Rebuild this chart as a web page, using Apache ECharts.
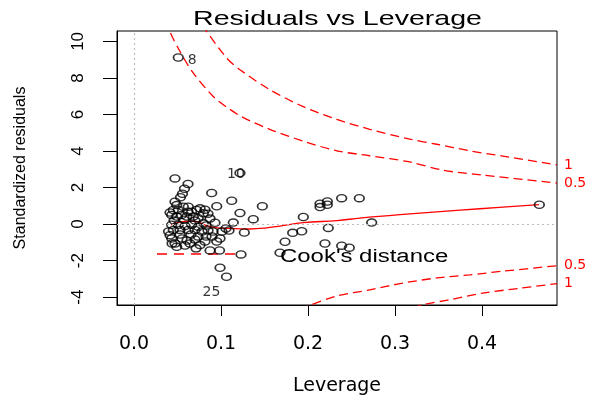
<!DOCTYPE html>
<html>
<head>
<meta charset="utf-8">
<script src="https://cdn.jsdelivr.net/npm/echarts/dist/echarts.min.js"></script>
<style>
html,body{margin:0;padding:0;background:#fff;}
#chart{width:596px;height:401px;}
</style>
</head>
<body>
<div id="chart"></div>
<script>
// ---- data ----
const leverage = [0.1218,0.0509,0.4659,0.1946,0.2138,0.2138,0.2222,0.2222,0.2387,0.2590,
  0.2732,0.2233,0.1928,0.1824,0.1736,0.2195,0.2387,0.2475,0.1678,0.1475,
  0.1371,0.1218,0.1123,0.0893,0.0951,0.1141,0.0931,0.1268,0.1230,0.0989,
  0.1063,0.0874,0.0983,0.0816,0.0951,0.0471,0.0621,0.0580,0.0557,0.0534,
  0.0491,0.0452,0.0509,0.0567,0.0624,0.0663,0.0721,0.0759,0.0797,0.0433,
  0.0491,0.0548,0.0606,0.0682,0.0739,0.0433,0.0509,0.0586,0.0663,0.0739,
  0.0797,0.0452,0.0529,0.0624,0.0701,0.0782,0.0851,0.0908,0.1011,0.1092,
  0.0414,0.0433,0.0471,0.0491,0.0644,0.0759,0.0397,0.0552,0.0609,0.0701,
  0.0529,0.0655,0.0736,0.0828,0.0586,0.0713,0.0851,0.0816,0.0874,0.0828,
  0.0414,0.0471,0.0575,0.0460,0.0701,0.0621,0.1057,0.0437,0.0897,0.0989];
const stdResid = [2.80,9.12,1.06,0.39,1.11,0.93,1.24,1.06,1.42,1.42,
  0.08,-0.21,-0.39,-0.48,-0.97,-1.06,-1.18,-1.29,-1.57,0.98,
  0.27,0.61,1.28,1.70,0.98,0.08,0.07,-0.46,-1.66,-2.39,
  -2.88,-1.44,-1.44,-0.95,-0.95,2.50,2.20,1.93,1.66,1.47,
  1.04,0.77,0.77,0.95,0.95,0.68,0.77,0.86,0.59,0.50,
  0.41,0.50,0.41,0.41,0.32,-0.04,-0.04,-0.10,-0.04,-0.14,
  0.04,-0.32,-0.32,-0.32,-0.32,-0.41,-0.35,-0.41,-0.41,-0.35,
  -0.61,-0.79,-1.06,-1.24,-1.06,-1.15,-0.41,-0.79,-0.90,-0.84,
  -0.57,-0.57,-0.68,-0.68,-1.17,-1.33,0.57,0.79,0.30,-0.08,
  0.63,1.22,0.24,0.19,0.19,0.68,-0.24,-1.06,-0.68,-0.79];
const idIndex = [1, 0, 30];
const idText = ['8', '10', '25'];

const smoothX = [0.0425,0.0529,0.0644,0.0724,0.0816,0.0931,0.1103,0.1333,0.1506,0.1678,0.1943,0.2333,0.2598,0.3057,0.3517,0.3977,0.4655];
const smoothY = [-0.05,0.11,0.16,0.14,-0.05,-0.19,-0.24,-0.27,-0.22,-0.11,0.08,0.19,0.33,0.52,0.68,0.84,1.06];

const cook1UpX = [0.078,0.1066,0.1218,0.156,0.194,0.233,0.271,0.317,0.348,0.386,0.424,0.4862];
const cook1UpY = [10.9,9.09,8.45,7.36,6.44,5.73,5.19,4.65,4.37,4.01,3.72,3.24];
const cook05UpX = [0.039,0.0414,0.0529,0.0678,0.0908,0.1069,0.1253,0.156,0.194,0.233,0.271,0.317,0.355,0.401,0.4862];
const cook05UpY = [11.2,10.53,9.45,8.29,7.0,6.39,5.84,5.19,4.55,4.01,3.74,3.40,2.95,2.68,2.25];
const cook05LoX = [0.19,0.1985,0.233,0.271,0.309,0.348,0.386,0.424,0.4862];
const cook05LoY = [-4.62,-4.5,-3.94,-3.60,-3.23,-2.95,-2.78,-2.58,-2.28];
const cook1LoX = [0.32,0.332,0.363,0.401,0.444,0.4862];
const cook1LoY = [-4.6,-4.41,-4.14,-3.78,-3.51,-3.26];

const xTicks = [0, 0.1, 0.2, 0.3, 0.4];
const yTicks = [-4, -2, 0, 2, 4, 6, 8, 10];

// ---- build ----
const zip = (a, b) => a.map((v, i) => [v, b[i]]);
const pts = leverage.map((x, i) => {
  const k = idIndex.indexOf(i);
  const item = { value: [x, stdResid[i]] };
  if (k >= 0) {
    const offs = [[14, 3], [-4, 1], [-15, 16]][k];
    item.label = { show: true, position: 'inside', offset: offs, formatter: idText[k],
      color: '#000', fontSize: 14, fontFamily: 'DejaVu Sans' };
  }
  return item;
});

const RED = '#ff0000';
function cookSeries(xs, ys, lab) {
  return {
    type: 'line', data: zip(xs, ys), showSymbol: false, smooth: 0.3, silent: true,
    lineStyle: { color: RED, width: 1.3, type: [9, 5] },
    endLabel: { show: true, formatter: lab, color: RED, fontSize: 14, fontFamily: 'DejaVu Sans', distance: 7 },
    z: 3
  };
}

const chart = echarts.init(document.getElementById('chart'), null, { renderer: 'canvas' });
chart.setOption({
  animation: false,
  backgroundColor: '#fff',
  grid: { left: 117, right: 39, top: 31, bottom: 94, show: true, borderColor: '#000', borderWidth: 1, backgroundColor: 'transparent' },
  xAxis: {
    type: 'value', min: -0.01954, max: 0.4862, position: 'bottom',
    name: 'Leverage', nameLocation: 'middle', nameGap: 72,
    nameTextStyle: { fontSize: 19, fontFamily: 'DejaVu Sans', color: '#000' },
    axisLine: { show: true, onZero: false, lineStyle: { color: '#000', width: 1 } },
    axisTick: { show: true, inside: false, length: 11, customValues: xTicks, lineStyle: { color: '#000', width: 1 } },
    axisLabel: { customValues: xTicks, formatter: v => v.toFixed(1), margin: 30, fontSize: 19, fontFamily: 'DejaVu Sans', color: '#000' },
    splitLine: { show: false }
  },
  yAxis: {
    type: 'value', min: -4.43, max: 10.57, position: 'left',
    name: 'Standardized residuals', nameLocation: 'middle', nameGap: 88,
    nameTextStyle: { fontSize: 16, fontFamily: 'Liberation Sans', color: '#000' },
    axisLine: { show: true, onZero: false, lineStyle: { color: '#000', width: 1 } },
    axisTick: { show: true, inside: false, length: 14, customValues: yTicks, lineStyle: { color: '#000', width: 1 } },
    axisLabel: { customValues: yTicks, rotate: 90, margin: 30, fontSize: 17, fontFamily: 'Liberation Sans', color: '#000' },
    splitLine: { show: false }
  },
  graphic: [
    { type: 'text', x: 337.5, y: 19.5, scaleX: 1.36, style: { text: 'Residuals vs Leverage', font: '21px "Liberation Sans"', fill: '#000', textAlign: 'center', textVerticalAlign: 'middle' } },
    { type: 'text', x: 280, y: 257, scaleX: 1.33, style: { text: "Cook's distance", font: '18px "Liberation Sans"', fill: '#000', textAlign: 'left', textVerticalAlign: 'middle' } },
    { type: 'line', shape: { x1: 157, y1: 254, x2: 241, y2: 254 }, style: { stroke: RED, lineWidth: 1.3, lineDash: [10, 7] } }
  ],
  series: [
    {
      type: 'scatter', data: pts, symbol: 'circle', symbolSize: [9.6, 7.2],
      itemStyle: { color: 'rgba(0,0,0,0)', borderColor: '#000', borderWidth: 1.5 },
      markLine: {
        silent: true, symbol: 'none', label: { show: false },
        lineStyle: { color: '#bdbdbd', type: [2, 3], width: 1.2 },
        data: [{ xAxis: 0 }, { yAxis: 0 }]
      },
      z: 4
    },
    {
      type: 'line', data: zip(smoothX, smoothY), showSymbol: false, smooth: 0.4, silent: true,
      lineStyle: { color: RED, width: 1.3 }, z: 3
    },
    cookSeries(cook1UpX, cook1UpY, '1'),
    cookSeries(cook05UpX, cook05UpY, '0.5'),
    cookSeries(cook05LoX, cook05LoY, '0.5'),
    cookSeries(cook1LoX, cook1LoY, '1')
  ]
});
</script>
</body>
</html>
